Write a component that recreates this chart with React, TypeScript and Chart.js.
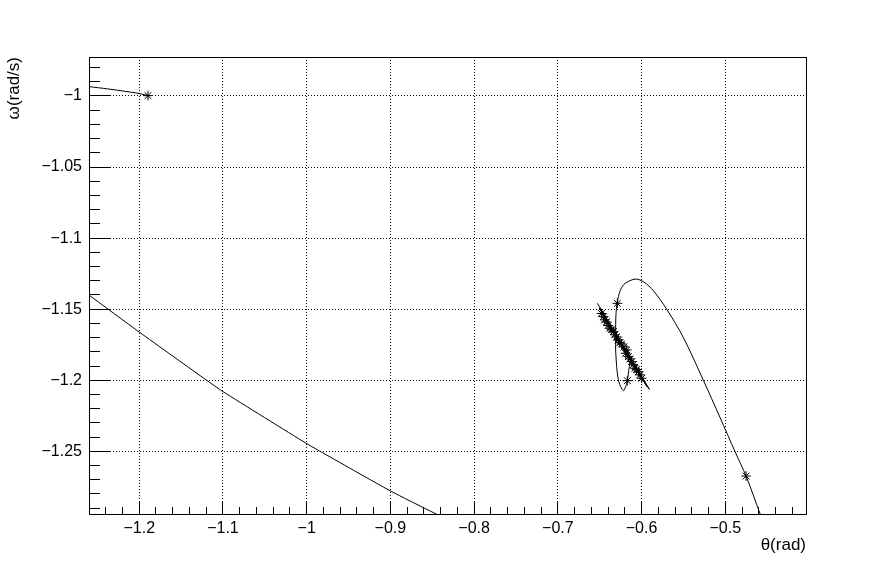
import React, { useEffect, useRef } from 'react';
import { Chart, registerables } from 'chart.js';

Chart.register(...registerables);

// ---- axis ranges and tick labels ----
const xRange = [-1.26, -0.4036];
const yRange = [-1.2941, -0.9726];
const xMajorTicks = [-1.2, -1.1, -1.0, -0.9, -0.8, -0.7, -0.6, -0.5];
const yMajorTicks = [-1.0, -1.05, -1.1, -1.15, -1.2, -1.25];
const xMinorStep = 0.02;
const yMinorStep = 0.01;
const xTitle = 'θ(rad)';
const yTitle = 'ω(rad/s)';

// ---- trajectories (theta, omega) ----
const arcTopTheta = [-1.27, -1.26, -1.2374, -1.2016, -1.1896];
const arcTopOmega = [-0.9928, -0.99346, -0.99507, -0.9981, -0.9998];

const longTheta = [-1.27, -1.2602, -1.1995, -1.12, -1.1, -1.0005, -0.9845, -0.9005, -0.847, -0.835];
const longOmega = [-1.1356, -1.14, -1.1663, -1.1998, -1.208, -1.2444, -1.2498, -1.2777, -1.2936, -1.297];

const loopTheta = [-0.4546, -0.4584, -0.4752, -0.4883, -0.5063, -0.5262, -0.55, -0.5699, -0.5859, -0.597, -0.6078, -0.6218, -0.6277, -0.6305, -0.631, -0.6308, -0.6277, -0.6218, -0.6177, -0.6146, -0.612];
const loopOmega = [-1.3, -1.294, -1.2674, -1.2503, -1.2262, -1.2, -1.17, -1.1501, -1.137, -1.131, -1.1288, -1.133, -1.1412, -1.1529, -1.169, -1.181, -1.1998, -1.2073, -1.2021, -1.1904, -1.183];

const bandTheta = [-0.6528, -0.5907, -0.6505, -0.5935, -0.6482, -0.596, -0.646, -0.5985, -0.644, -0.601, -0.642, -0.606, -0.63];
const bandOmega = [-1.1459, -1.2064, -1.1492, -1.2045, -1.1505, -1.202, -1.153, -1.2, -1.156, -1.1975, -1.1585, -1.193, -1.17];

// ---- star markers ----
const starTheta = [
  -1.1896, -0.4752, -0.6289, -0.617,
  -0.648, -0.6455, -0.644, -0.642, -0.64, -0.6376, -0.636, -0.6337, -0.632, -0.63,
  -0.6277, -0.626, -0.624, -0.621, -0.6177, -0.619, -0.6158, -0.614, -0.6117, -0.61,
  -0.6078, -0.606, -0.6038, -0.602, -0.5998,
];
const starOmega = [
  -0.9998, -1.2674, -1.1459, -1.2003,
  -1.153, -1.1553, -1.1575, -1.159, -1.1615, -1.1634, -1.1645, -1.1658, -1.168, -1.1695,
  -1.1717, -1.1735, -1.1745, -1.1765, -1.1787, -1.181, -1.1834, -1.185, -1.1869, -1.189,
  -1.1916, -1.1925, -1.194, -1.1962, -1.1986,
];

const toXY = (xs: number[], ys: number[]) => xs.map((x, i) => ({ x, y: ys[i] }));

const isIn = (list: number[], v: number) => list.some((m) => Math.abs(m - v) < 1e-9);
const fmt = (v: number) => String(Number(v.toFixed(2))).replace('-', '\u2212');

const buildTicks = (lo: number, hi: number, step: number) => {
  const out: { value: number }[] = [];
  const kStart = Math.ceil(lo / step - 1e-9);
  const kEnd = Math.floor(hi / step + 1e-9);
  for (let k = kStart; k <= kEnd; k++) out.push({ value: Number((k * step).toFixed(4)) });
  return out;
};

const FONT = "'Liberation Sans', Arial, Helvetica, sans-serif";

const rootFrame = {
  id: 'rootFrame',
  beforeDraw(chart: any) {
    const { ctx, width, height } = chart;
    ctx.save();
    ctx.fillStyle = '#ffffff';
    ctx.fillRect(0, 0, width, height);
    ctx.restore();
  },
  afterDraw(chart: any) {
    const { ctx, chartArea: a, scales } = chart;
    const al = (p: number) => Math.round(p - 0.5) + 0.5;
    ctx.save();
    ctx.strokeStyle = '#000';
    ctx.lineWidth = 1;
    ctx.setLineDash([]);
    ctx.beginPath();
    for (const t of scales.x.ticks) {
      const px = al(scales.x.getPixelForValue(t.value));
      const len = isIn(xMajorTicks, t.value) ? 13 : 7;
      ctx.moveTo(px, a.bottom);
      ctx.lineTo(px, a.bottom - len);
    }
    for (const t of scales.y.ticks) {
      const py = al(scales.y.getPixelForValue(t.value));
      const len = isIn(yMajorTicks, t.value) ? 22 : 11;
      ctx.moveTo(a.left, py);
      ctx.lineTo(a.left + len, py);
    }
    ctx.stroke();
    ctx.strokeRect(a.left + 0.5, a.top + 0.5, a.right - a.left, a.bottom - a.top);
    ctx.restore();
  },
};

export default function App() {
  const ref = useRef<HTMLCanvasElement | null>(null);

  useEffect(() => {
    document.body.style.margin = '0';
    if (!ref.current) return;
    const lineDs = (xs: number[], ys: number[], tension: number) => ({
      data: toXY(xs, ys),
      showLine: true,
      borderColor: '#000',
      borderWidth: 1,
      pointRadius: 0,
      tension,
      clip: 0,
    });
    const chart = new Chart(ref.current, {
      type: 'scatter',
      data: {
        datasets: [
          lineDs(arcTopTheta, arcTopOmega, 0.3),
          lineDs(longTheta, longOmega, 0.2),
          lineDs(loopTheta, loopOmega, 0.3),
          lineDs(bandTheta, bandOmega, 0),
          {
            data: toXY(starTheta, starOmega),
            showLine: false,
            pointStyle: 'star',
            pointRadius: 4.8,
            borderColor: '#000',
            backgroundColor: '#000',
            borderWidth: 1,
            clip: 0,
          } as any,
        ],
      },
      options: {
        responsive: false,
        animation: false,
        events: [],
        devicePixelRatio: 1,
        layout: { padding: { left: 0, top: 57, right: 90, bottom: 0 } },
        plugins: { legend: { display: false }, tooltip: { enabled: false } },
        scales: {
          x: {
            type: 'linear',
            min: xRange[0],
            max: xRange[1],
            afterBuildTicks: (s: any) => {
              s.ticks = buildTicks(xRange[0], xRange[1], xMinorStep);
            },
            afterFit: (s: any) => {
              s.height = 58;
            },
            grid: {
              drawTicks: false,
              lineWidth: 1,
              color: (c: any) => (c.tick && isIn(xMajorTicks, c.tick.value) ? '#000' : 'rgba(0,0,0,0)'),
            },
            border: { display: false, dash: [1, 2] },
            ticks: {
              autoSkip: false,
              maxRotation: 0,
              minRotation: 0,
              padding: 5,
              color: '#000',
              font: { family: FONT, size: 16 },
              callback: (v: any) => (isIn(xMajorTicks, Number(v)) ? fmt(Number(v)) : ''),
            },
            title: {
              display: true,
              text: xTitle,
              align: 'end',
              color: '#000',
              font: { family: FONT, size: 17 },
              padding: { top: 0, bottom: 16 },
            },
          },
          y: {
            type: 'linear',
            min: yRange[0],
            max: yRange[1],
            afterBuildTicks: (s: any) => {
              s.ticks = buildTicks(yRange[0], yRange[1], yMinorStep);
            },
            afterFit: (s: any) => {
              s.width = 89;
            },
            grid: {
              drawTicks: false,
              lineWidth: 1,
              color: (c: any) => (c.tick && isIn(yMajorTicks, c.tick.value) ? '#000' : 'rgba(0,0,0,0)'),
            },
            border: { display: false, dash: [1, 2] },
            ticks: {
              autoSkip: false,
              padding: 7,
              color: '#000',
              font: { family: FONT, size: 16 },
              callback: (v: any) => (isIn(yMajorTicks, Number(v)) ? fmt(Number(v)) : ''),
            },
            title: {
              display: true,
              text: yTitle,
              align: 'end',
              color: '#000',
              font: { family: FONT, size: 17 },
              padding: { top: 4, bottom: 0 },
            },
          },
        },
      } as any,
      plugins: [rootFrame],
    });
    return () => chart.destroy();
  }, []);

  return (
    <div style={{ width: 896, height: 572 }}>
      <canvas ref={ref} width={896} height={572} style={{ display: 'block' }} />
    </div>
  );
}
